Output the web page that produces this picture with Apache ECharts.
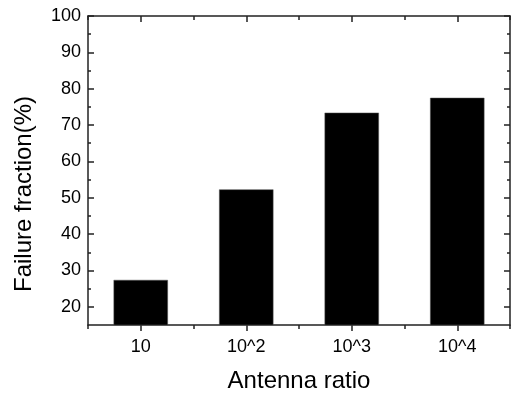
<!DOCTYPE html>
<html>
<head>
<meta charset="utf-8">
<script src="https://cdn.jsdelivr.net/npm/echarts@6/dist/echarts.min.js"></script>
<style>
html,body{margin:0;padding:0;background:#fff;}
#chart{width:513px;height:398px;}
</style>
</head>
<body>
<div id="chart"></div>
<script>
const categories = ['10', '10^2', '10^3', '10^4'];
const failureFraction = [27.4, 52.3, 73.4, 77.5];
const yMajorTicks = [20, 30, 40, 50, 60, 70, 80, 90, 100];
const yMinorTicks = [25, 35, 45, 55, 65, 75, 85, 95];
const xTitle = 'Antenna ratio';
const yTitle = 'Failure fraction(%)';

const FONT = "'Liberation Sans', Arial, sans-serif";
const LINE = { color: '#222', width: 1.5 };
const TICK = { color: '#222', width: 1.5 };

const chart = echarts.init(document.getElementById('chart'), null, { renderer: 'canvas' });

function xAx(position, aligned, length, inside, showLabel, showLine, name) {
  return {
    type: 'category',
    data: categories,
    position: position,
    boundaryGap: true,
    axisLine: { show: showLine, lineStyle: LINE },
    axisTick: { show: true, alignWithLabel: aligned, inside: inside, length: length, lineStyle: TICK },
    axisLabel: { show: showLabel, color: '#000', fontSize: 18, fontFamily: FONT, margin: 13 },
    splitLine: { show: false },
    name: name || '',
    nameLocation: 'middle',
    nameGap: 44,
    nameTextStyle: { color: '#000', fontSize: 24, fontFamily: FONT }
  };
}
function yAx(position, ticks, length, showLabel, showLine) {
  return {
    type: 'value',
    position: position,
    min: 15,
    max: 100,
    axisLine: { show: showLine, lineStyle: LINE },
    axisTick: { show: true, inside: true, length: length, lineStyle: TICK, customValues: ticks },
    axisLabel: { show: showLabel, color: '#000', fontSize: 18, fontFamily: FONT, margin: 7, customValues: yMajorTicks },
    splitLine: { show: false }
  };
}

chart.setOption({
  animation: false,
  backgroundColor: '#fff',
  grid: { left: 88, right: 3, top: 16, bottom: 68, containLabel: false },
  xAxis: [
    xAx('bottom', true, 6, false, true, true, xTitle),
    xAx('bottom', false, 4, false, false, false),
    xAx('top', true, 6, true, false, true),
    xAx('top', false, 4, true, false, false)
  ],
  yAxis: [
    yAx('left', yMajorTicks, 6, true, true),
    yAx('left', yMinorTicks, 3, false, false),
    yAx('right', yMajorTicks, 6, false, true),
    yAx('right', yMinorTicks, 3, false, false)
  ],
  graphic: [{
    type: 'text',
    x: 24,
    y: 194,
    rotation: Math.PI / 2,
    style: {
      text: yTitle,
      fill: '#000',
      font: '24px ' + FONT,
      textAlign: 'center',
      textVerticalAlign: 'middle'
    }
  }],
  series: [{
    type: 'bar',
    xAxisIndex: 0,
    yAxisIndex: 0,
    data: failureFraction,
    barWidth: '51.5%',
    itemStyle: { color: '#000', borderColor: '#555', borderWidth: 0.5 }
  }]
});
</script>
</body>
</html>
